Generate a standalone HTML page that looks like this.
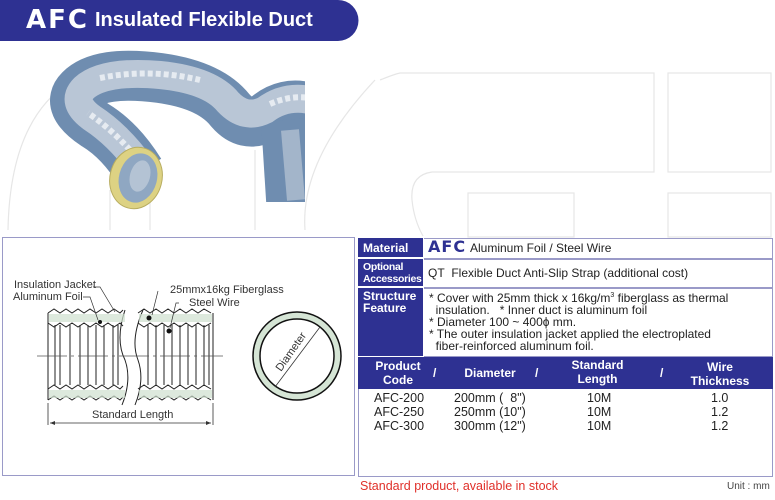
<!DOCTYPE html>
<html><head><meta charset="utf-8"><style>
body{margin:0;width:775px;height:500px;background:#fff;position:relative;overflow:hidden;font-family:"Liberation Sans",sans-serif;}
.a{position:absolute;white-space:nowrap;}
.lab{position:absolute;left:358px;width:65px;background:#2e3192;color:#fff;font-weight:bold;font-size:12px;line-height:12px;padding-left:5px;box-sizing:border-box;}
.val{position:absolute;left:424px;right:2px;border:1px solid #9a9ac8;border-left:none;font-size:12.5px;color:#222;}
.th{position:absolute;color:#fff;font-weight:bold;font-size:12px;text-align:center;line-height:14px;}
.td{position:absolute;font-size:12.5px;color:#222;}
</style></head><body>
<svg class="a" style="left:0;top:0" width="775" height="500">
<g fill="none" stroke="#e6e6e6" stroke-width="1.2">
<path d="M8 230 Q10 120 70 82"/><path d="M110 230 L110 190"/><path d="M150 230 L150 190"/>
<path d="M255 230 L255 150"/><path d="M305 230 Q300 160 375 80"/>
<path d="M380 80 Q395 74 400 73 L654 73 L654 172 L432 172 Q410 175 412 200 Q414 220 423 236"/>
<rect x="668" y="73" width="103" height="99"/><rect x="468" y="193" width="106" height="44"/><rect x="668" y="193" width="103" height="44"/>
</g>
<path d="M0 0 H338 A20.5 20.5 0 0 1 338 41 H0 Z" fill="#2e3192"/>
<defs><clipPath id="c"><rect x="0" y="50" width="305" height="152"/></clipPath></defs>
<g clip-path="url(#c)" fill="none" stroke-linecap="butt">
<path d="M140 172 Q120 140 95 125 Q65 105 80 90 Q100 70 160 78 Q210 85 230 110 Q245 128 265 118 Q285 100 310 108" stroke="#6f8db0" stroke-width="50"/>
<path d="M283 120 L290 230" stroke="#6f8db0" stroke-width="44"/>
<path d="M140 165 Q118 135 92 118 Q70 102 84 88 Q104 70 160 75 Q210 80 228 102 Q245 120 265 110 Q285 95 310 100" stroke="#b9c6d6" stroke-width="28"/>
<path d="M130 150 Q110 128 88 113 M100 78 Q150 68 200 80 M270 104 Q290 95 310 98" stroke="#e6ebf1" stroke-width="6" stroke-dasharray="5 3"/>
<path d="M290 130 L296 200" stroke="#a3b5ca" stroke-width="18"/>
</g>
<ellipse cx="136" cy="178" rx="26" ry="31" transform="rotate(15 136 178)" fill="#ddd283" stroke="#b8ad60"/>
<ellipse cx="138" cy="178" rx="19" ry="25" transform="rotate(15 138 178)" fill="#8fa7c2"/>
<ellipse cx="140" cy="176" rx="10" ry="16" transform="rotate(15 140 176)" fill="#b4c3d4"/>
<rect x="2.5" y="237.5" width="352" height="238" fill="none" stroke="#9a9ac8"/>
<g stroke="#222" stroke-width="1" fill="none">
<path d="M48 313 V400 M213 313 V400"/>
<path d="M48 313 l6 -4 l6 4 l6 -4 l6 4 l6 -4 l6 4 l6 -4 l6 4 l6 -4 l6 4 l6 -4 l6 4 l3 -3"/>
<path d="M138 313 l6 -4 l6 4 l6 -4 l6 4 l6 -4 l6 4 l6 -4 l6 4 l6 -4 l6 4 l6 -4 l7 4"/>
<path d="M48 323 l6 4 l6 -4 l6 4 l6 -4 l6 4 l6 -4 l6 4 l6 -4 l6 4 l6 -4 l6 4 l6 -4 l3 3"/>
<path d="M138 323 l6 4 l6 -4 l6 4 l6 -4 l6 4 l6 -4 l6 4 l6 -4 l6 4 l6 -4 l6 4 l7 -4"/>
<path d="M48 389 l6 -4 l6 4 l6 -4 l6 4 l6 -4 l6 4 l6 -4 l6 4 l6 -4 l6 4 l6 -4 l6 4 l3 -3"/>
<path d="M138 389 l6 -4 l6 4 l6 -4 l6 4 l6 -4 l6 4 l6 -4 l6 4 l6 -4 l6 4 l6 -4 l7 4"/>
<path d="M48 400 l6 -4 l6 4 l6 -4 l6 4 l6 -4 l6 4 l6 -4 l6 4 l6 -4 l6 4 l6 -4 l6 4 l3 -3"/>
<path d="M138 400 l6 -4 l6 4 l6 -4 l6 4 l6 -4 l6 4 l6 -4 l6 4 l6 -4 l6 4 l6 -4 l7 4"/>
<path d="M125 310 Q115 340 125 360 Q132 380 122 405"/><path d="M143 310 Q130 340 138 360 Q145 380 135 405"/>
<path d="M55 325 V385 M60 325 V385 M70 325 V385 M80 325 V385 M88 325 V385 M96 325 V385 M104 325 V385 M113 325 V385 M118 325 V385 M148 325 V385 M156 325 V385 M164 325 V385 M172 325 V385 M180 325 V385 M188 325 V385 M196 325 V385 M204 325 V385 M209 325 V385"/>
</g>
<rect x="49" y="314" width="76" height="8" fill="#cfe0cf" opacity="0.7"/><rect x="139" y="314" width="73" height="8" fill="#cfe0cf" opacity="0.7"/>
<rect x="49" y="390" width="76" height="8" fill="#cfe0cf" opacity="0.7"/><rect x="139" y="390" width="73" height="8" fill="#cfe0cf" opacity="0.7"/>
<path d="M37 356 H223" stroke="#555" stroke-width="0.7" stroke-dasharray="30 4 3 4"/>
<path d="M48 403 V425 M213 403 V425 M50 423 H211" stroke="#333" stroke-width="0.8" fill="none"/>
<path d="M50 423 l5 -2 v4z M211 423 l-5 -2 v4z" fill="#333"/>
<circle cx="100" cy="322" r="2" fill="#111"/><circle cx="149" cy="318" r="2.5" fill="#111"/><circle cx="169" cy="331" r="2.5" fill="#111"/>
<path d="M93 287 H100 L115 312 M83 297 H90 L98 320 M158 291 L152 315 M179 303 L176 303 L170 328" stroke="#333" stroke-width="0.7" fill="none"/>
<circle cx="297" cy="356" r="44" fill="#d5e5d5" stroke="#111" stroke-width="1.5"/>
<circle cx="297" cy="356" r="37" fill="#fff" stroke="#111" stroke-width="1.5"/>
<path d="M275 387 L320 327" stroke="#333" stroke-width="0.8"/>
<text x="0" y="0" transform="translate(281 372) rotate(-55)" font-size="11" fill="#333" font-family="Liberation Sans">Diameter</text>
<rect x="358.5" y="388.5" width="414" height="88" fill="none" stroke="#9a9ac8"/>
</svg>
<div class="a" style="left:26px;top:5px;color:#fff;font-weight:bold;font-size:26px;letter-spacing:2px;font-family:'DejaVu Sans',sans-serif;">AFC</div>
<div class="a" style="left:95px;top:9px;color:#fff;font-weight:bold;font-size:20px;">Insulated Flexible Duct</div>
<div class="a" style="left:14px;top:279px;font-size:11px;color:#333">Insulation Jacket</div>
<div class="a" style="left:13px;top:291px;font-size:11px;color:#333">Aluminum Foil</div>
<div class="a" style="left:170px;top:284px;font-size:11px;color:#333">25mmx16kg Fiberglass</div>
<div class="a" style="left:189px;top:297px;font-size:11px;color:#333">Steel Wire</div>
<div class="a" style="left:92px;top:409px;font-size:11px;color:#333">Standard Length</div>

<div class="lab" style="top:238px;height:19px;padding-top:4px">Material</div>
<div class="val" style="top:238px;height:19px"><span class="a" style="left:4px;top:-2px;font-weight:bold;font-size:16px;color:#2e3192;font-family:'DejaVu Sans',sans-serif;letter-spacing:1px">AFC</span><span class="a" style="left:46px;top:2px;font-size:12px">Aluminum Foil / Steel Wire</span></div>
<div class="lab" style="top:259px;height:27px;padding-top:2px;font-size:10.5px;line-height:12px;letter-spacing:-0.3px">Optional<br>Accessories</div>
<div class="val" style="top:259px;height:27px"><span class="a" style="left:4px;top:6px;font-size:12px">QT&nbsp; Flexible Duct Anti-Slip Strap (additional cost)</span></div>
<div class="lab" style="top:288px;height:68px;padding-top:2px;font-size:12px;line-height:12px">Structure<br>Feature</div>
<div class="val" style="top:288px;height:67px;line-height:12px;font-size:12px"><div style="position:absolute;left:5px;top:3px;white-space:nowrap">* Cover with 25mm thick x 16kg/m<span style="font-size:7px;vertical-align:5px;line-height:0">3</span> fiberglass as thermal<br>&nbsp;&nbsp;insulation.&nbsp;&nbsp; * Inner duct is aluminum foil<br>* Diameter 100 ~ 400&#981; mm.<br>* The outer insulation jacket applied the electroplated<br>&nbsp;&nbsp;fiber-reinforced aluminum foil.</div></div>
<div class="a" style="left:358px;top:357px;width:415px;height:32px;background:#2e3192"></div>
<div class="th" style="left:368px;width:60px;top:359px">Product<br>Code</div>
<div class="th" style="left:433px;top:366px">/</div>
<div class="th" style="left:450px;width:80px;top:366px">Diameter</div>
<div class="th" style="left:535px;top:366px">/</div>
<div class="th" style="left:560px;width:75px;top:358px">Standard<br>Length</div>
<div class="th" style="left:660px;top:366px">/</div>
<div class="th" style="left:680px;width:80px;top:360px">Wire<br>Thickness</div>
<div class="td" style="left:374px;top:391px;line-height:14px">AFC-200<br>AFC-250<br>AFC-300</div>
<div class="td" style="left:454px;top:391px;line-height:14px">200mm (&nbsp; 8")<br>250mm (10")<br>300mm (12")</div>
<div class="td" style="left:587px;top:391px;line-height:14px">10M<br>10M<br>10M</div>
<div class="td" style="left:711px;top:391px;line-height:14px">1.0<br>1.2<br>1.2</div>
<div class="a" style="left:360px;top:479px;font-size:12.5px;color:#e0302a">Standard product, available in stock</div>
<div class="a" style="left:727px;top:481px;font-size:10px;color:#444">Unit : mm</div>
</body></html>
